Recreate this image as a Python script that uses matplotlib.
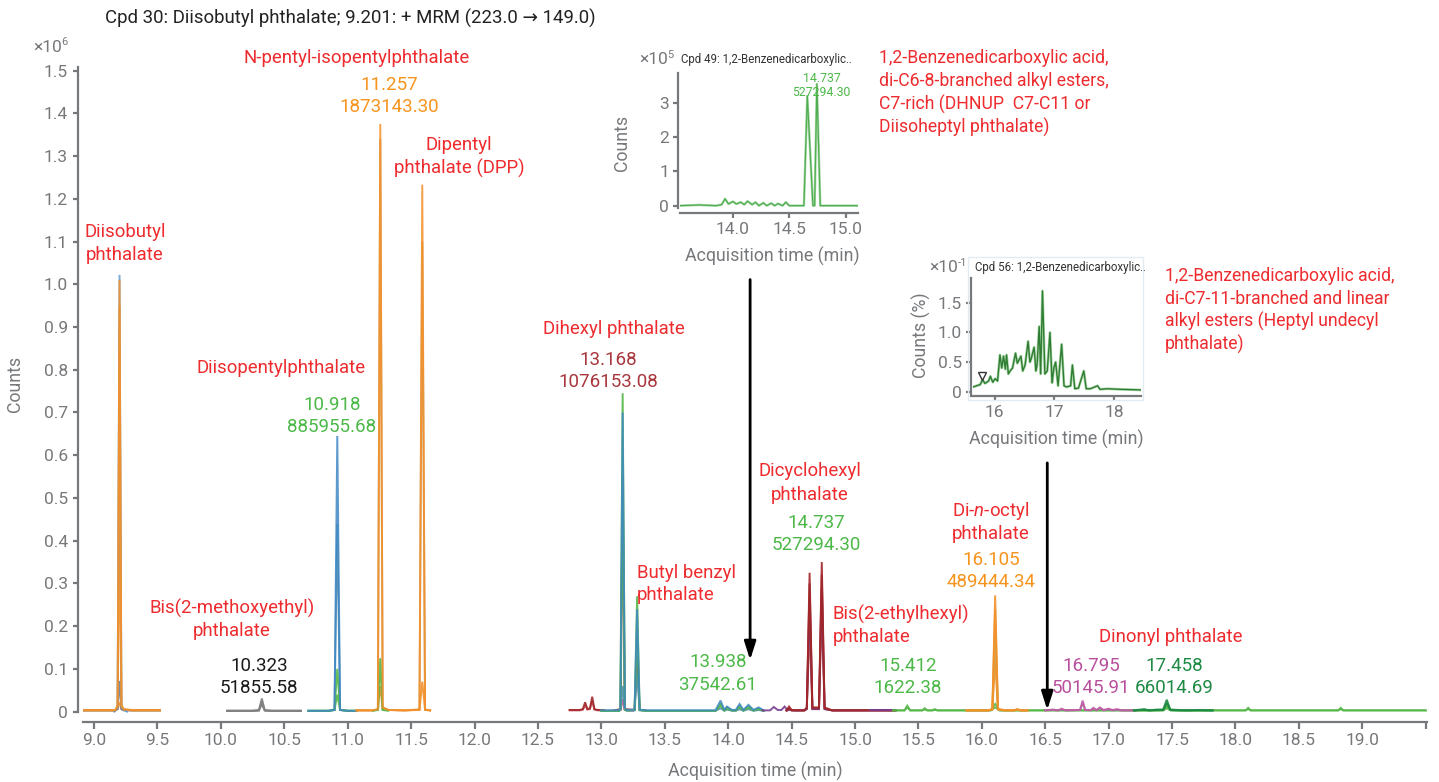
import matplotlib
matplotlib.use('Agg')
import matplotlib.pyplot as plt
from matplotlib.patches import Rectangle

plt.rcParams['font.family'] = ['Roboto', 'DejaVu Sans']
plt.rcParams['mathtext.fontset'] = 'custom'
plt.rcParams['mathtext.rm'] = 'Roboto'
plt.rcParams['mathtext.it'] = 'Roboto:italic'

# ---------------- data (main chromatogram, counts x1e6) ----------------
x_ticks = [9.0, 9.5, 10.0, 10.5, 11.0, 11.5, 12.0, 12.5, 13.0, 13.5, 14.0, 14.5,
           15.0, 15.5, 16.0, 16.5, 17.0, 17.5, 18.0, 18.5, 19.0, 19.5]
x_tick_labels = ['9.0', '9.5', '10.0', '10.5', '11.0', '11.5', '12.0', '12.5', '13.0',
                 '13.5', '14.0', '14.5', '15.0', '15.5', '16.0', '16.5', '17.0', '17.5',
                 '18.0', '18.5', '19.0', '']
y_ticks = [0, 0.1, 0.2, 0.3, 0.4, 0.5, 0.6, 0.7, 0.8, 0.9, 1.0, 1.1, 1.2, 1.3, 1.4, 1.5]
y_tick_labels = ['0', '0.1', '0.2', '0.3', '0.4', '0.5', '0.6', '0.7', '0.8', '0.9',
                 '1.0', '1.1', '1.2', '1.3', '1.4', '1.5']

# Diisobutyl phthalate window
A_t = [8.92, 9.10, 9.168, 9.186, 9.201, 9.216, 9.234, 9.30, 9.52]
A_orange_1 = [0.004, 0.004, 0.004, 0.015, 1.010, 0.015, 0.006, 0.004, 0.004]
A_tan = [0.003, 0.003, 0.003, 0.012, 0.950, 0.012, 0.005, 0.003, 0.003]
A_orange_2 = [0.003, 0.003, 0.003, 0.010, 0.425, 0.010, 0.005, 0.003, 0.003]
A_slate = [0.003, 0.003, 0.003, 0.006, 0.072, 0.006, 0.003, 0.003, 0.003]
A_orange_3 = [0.003, 0.003, 0.003, 0.006, 0.022, 0.006, 0.004, 0.003, 0.003]
A_blue_t = [9.16, 9.186, 9.201, 9.216, 9.26]
A_blue = [0.0, 0.008, 1.022, 0.008, 0.0]

# Bis(2-methoxyethyl) phthalate window
B_t = [10.05, 10.25, 10.300, 10.323, 10.346, 10.40, 10.63]
B_gray_1 = [0.002, 0.002, 0.003, 0.031, 0.003, 0.002, 0.002]
B_gray_2 = [0.002, 0.002, 0.003, 0.024, 0.003, 0.002, 0.002]
B_gray_3 = [0.002, 0.002, 0.003, 0.017, 0.003, 0.002, 0.002]

# Diisopentyl phthalate window
C1_t = [10.69, 10.85, 10.896, 10.918, 10.940, 11.00, 11.07]
C1_blue_1 = [0.002, 0.002, 0.004, 0.645, 0.004, 0.002, 0.002]
C1_blue_2 = [0.002, 0.002, 0.004, 0.440, 0.004, 0.002, 0.002]
C1_green_1 = [0.002, 0.002, 0.004, 0.100, 0.004, 0.002, 0.002]
C1_green_2 = [0.002, 0.002, 0.004, 0.040, 0.004, 0.002, 0.002]

# N-pentyl-isopentyl / dipentyl phthalate window
C2_t = [11.07, 11.20, 11.238, 11.257, 11.276, 11.32, 11.45, 11.566, 11.588, 11.610, 11.65]
C2_orange_1 = [0.003, 0.003, 0.006, 1.375, 0.010, 0.004, 0.003, 0.005, 1.233, 0.005, 0.003]
C2_tan = [0.003, 0.003, 0.006, 1.340, 0.010, 0.004, 0.003, 0.005, 1.100, 0.005, 0.003]
C2_orange_2 = [0.003, 0.003, 0.005, 0.060, 0.006, 0.004, 0.003, 0.004, 0.070, 0.004, 0.003]
C2_green_t = [11.20, 11.240, 11.257, 11.274, 11.32]
C2_green = [0.002, 0.004, 0.125, 0.004, 0.002]

# Dihexyl / butyl benzyl region
D1_t = [12.75, 12.83, 12.855, 12.872, 12.89, 12.91, 12.928, 12.945, 12.97, 13.02]
D1_red_1 = [0.004, 0.004, 0.006, 0.022, 0.006, 0.008, 0.035, 0.006, 0.004, 0.004]
D1_red_2 = [0.003, 0.003, 0.005, 0.015, 0.005, 0.006, 0.025, 0.005, 0.003, 0.003]
D2_t = [13.00, 13.10, 13.152, 13.168, 13.184, 13.25]
D2_pink = [0.002, 0.002, 0.004, 0.030, 0.004, 0.002]
D3_t = [13.00, 13.14, 13.150, 13.168, 13.186, 13.20, 13.262, 13.282, 13.302, 13.35,
        13.60, 13.90, 13.94, 13.97, 13.99, 14.03, 14.06, 14.09, 14.12, 14.16,
        14.20, 14.24, 14.28]
D3_blue = [0.003, 0.003, 0.008, 0.700, 0.008, 0.004, 0.005, 0.240, 0.005, 0.003,
           0.003, 0.003, 0.026, 0.004, 0.012, 0.004, 0.004, 0.018, 0.004, 0.016,
           0.004, 0.010, 0.003]
D3_green_1 = [0.002, 0.002, 0.006, 0.745, 0.006, 0.003, 0.004, 0.270, 0.004, 0.002,
              0.002, 0.002, 0.020, 0.003, 0.010, 0.003, 0.003, 0.014, 0.003, 0.013,
              0.003, 0.008, 0.002]
D3_green_2 = [0.002, 0.002, 0.005, 0.500, 0.005, 0.003, 0.004, 0.180, 0.004, 0.002,
              0.002, 0.002, 0.014, 0.003, 0.007, 0.003, 0.003, 0.010, 0.003, 0.009,
              0.003, 0.006, 0.002]
D3_teal = [0.002, 0.002, 0.004, 0.060, 0.004, 0.002, 0.003, 0.090, 0.003, 0.002,
           0.002, 0.002, 0.008, 0.002, 0.005, 0.002, 0.002, 0.006, 0.002, 0.006,
           0.002, 0.004, 0.002]
D3_red_t = [13.10, 13.152, 13.168, 13.184, 13.262, 13.282, 13.302, 13.35]
D3_red = [0.003, 0.006, 0.550, 0.006, 0.004, 0.130, 0.004, 0.003]

# dicyclohexyl / bis(2-ethylhexyl) region
D4_t = [14.27, 14.33, 14.36, 14.39, 14.42, 14.445, 14.47]
D4_purple = [0.003, 0.003, 0.011, 0.004, 0.004, 0.012, 0.003]
D5_t = [14.46, 14.48, 14.50, 14.53, 14.60, 14.620, 14.642, 14.664, 14.716, 14.738,
        14.760, 14.82, 15.00, 15.32]
D5_red_1 = [0.003, 0.012, 0.004, 0.003, 0.003, 0.010, 0.325, 0.010, 0.010, 0.350,
            0.010, 0.003, 0.003, 0.003]
D5_red_2 = [0.003, 0.008, 0.003, 0.003, 0.003, 0.008, 0.300, 0.008, 0.008, 0.320,
            0.008, 0.003, 0.003, 0.003]
D5_purple = [0.003, 0.005, 0.003, 0.003, 0.003, 0.006, 0.260, 0.006, 0.006, 0.290,
             0.006, 0.003, 0.003, 0.003]
D5_red_3 = [0.003, 0.005, 0.003, 0.003, 0.003, 0.006, 0.200, 0.006, 0.006, 0.240,
            0.006, 0.003, 0.003, 0.003]
D6_t = [15.12, 15.32]
D6_purple = [0.003, 0.003]

# late green trace
D7_t = [15.30, 15.39, 15.412, 15.435, 15.53, 15.55, 15.57, 15.61, 15.63, 15.65,
        16.07, 16.105, 16.14, 16.30, 17.43, 17.458, 17.49, 18.08, 18.10, 18.12,
        18.81, 18.83, 18.85, 19.50]
D7_green_1 = [0.003, 0.003, 0.014, 0.003, 0.003, 0.008, 0.003, 0.003, 0.006, 0.003,
              0.003, 0.018, 0.003, 0.003, 0.003, 0.012, 0.003, 0.003, 0.009, 0.003,
              0.003, 0.009, 0.003, 0.003]
D7_green_2 = [0.003, 0.003, 0.010, 0.003, 0.003, 0.005, 0.003, 0.003, 0.004, 0.003,
              0.003, 0.010, 0.003, 0.003, 0.003, 0.008, 0.003, 0.003, 0.006, 0.003,
              0.003, 0.006, 0.003, 0.003]

# di-n-octyl phthalate
D8_t = [15.88, 16.05, 16.083, 16.105, 16.127, 16.17, 16.25, 16.28, 16.31, 16.36]
D8_orange_1 = [0.003, 0.003, 0.006, 0.272, 0.006, 0.004, 0.003, 0.006, 0.003, 0.003]
D8_orange_2 = [0.003, 0.003, 0.006, 0.240, 0.006, 0.004, 0.003, 0.005, 0.003, 0.003]
D8_olive = [0.003, 0.003, 0.005, 0.190, 0.005, 0.003, 0.003, 0.004, 0.003, 0.003]
D8_orange_3 = [0.003, 0.003, 0.005, 0.120, 0.005, 0.003, 0.003, 0.004, 0.003, 0.003]

# dinonyl phthalate
D9_t = [16.50, 16.56, 16.60, 16.63, 16.66, 16.72, 16.775, 16.795, 16.815, 16.86,
        16.88, 16.905, 16.93, 16.96, 17.00, 17.03, 17.07, 17.10, 17.22]
D9_magenta_1 = [0.003, 0.005, 0.003, 0.007, 0.003, 0.004, 0.004, 0.026, 0.004, 0.004,
                0.009, 0.004, 0.010, 0.004, 0.007, 0.004, 0.006, 0.003, 0.003]
D9_gray = [0.003, 0.004, 0.003, 0.005, 0.003, 0.003, 0.004, 0.020, 0.004, 0.003,
           0.007, 0.003, 0.008, 0.003, 0.005, 0.003, 0.004, 0.003, 0.003]
D10_t = [17.20, 17.28, 17.32, 17.38, 17.43, 17.458, 17.486, 17.55, 17.62, 17.70, 17.82]
D10_dkgreen_1 = [0.003, 0.006, 0.003, 0.005, 0.005, 0.028, 0.005, 0.004, 0.003, 0.004, 0.003]
D10_dkgreen_2 = [0.003, 0.004, 0.003, 0.004, 0.004, 0.021, 0.004, 0.003, 0.003, 0.003, 0.003]
D10_green_3 = [0.003, 0.003, 0.003, 0.003, 0.004, 0.014, 0.004, 0.003, 0.003, 0.003, 0.003]

# inset 1 (Cpd 49, counts x1e5)
I1_t = [13.53, 13.70, 13.85, 13.90, 13.93, 13.96, 14.00, 14.03, 14.07, 14.10, 14.13,
        14.17, 14.20, 14.23, 14.27, 14.30, 14.34, 14.37, 14.40, 14.44, 14.47, 14.50,
        14.63, 14.660, 14.710, 14.725, 14.745, 14.775, 14.80, 15.11]
I1_y = [0.0, 0.02, 0.0, 0.03, 0.20, 0.05, 0.12, 0.05, 0.10, 0.03, 0.13,
        0.03, 0.10, 0.0, 0.08, 0.0, 0.07, 0.0, 0.06, 0.0, 0.10, 0.0,
        0.0, 3.20, 0.0, 0.0, 3.55, 0.0, 0.0, 0.0]
I1_xticks = [14.0, 14.5, 15.0]
I1_xlabels = ['14.0', '14.5', '15.0']
I1_yticks = [0, 1, 2, 3]
I1_ylabels = ['0', '1', '2', '3']

# inset 2 (Cpd 56, counts % x1e-1)
I2_t = [15.64, 15.70, 15.76, 15.80, 15.84, 15.90, 15.93, 15.97, 16.01, 16.05,
        16.09, 16.12, 16.15, 16.18, 16.20, 16.23, 16.26, 16.30, 16.35, 16.38,
        16.40, 16.44, 16.47, 16.51, 16.56, 16.59, 16.61, 16.66, 16.69, 16.71,
        16.745, 16.77, 16.80, 16.84, 16.88, 16.925, 16.96, 16.99, 17.02, 17.06,
        17.12, 17.16, 17.20, 17.27, 17.30, 17.34, 17.40, 17.49, 17.53, 17.60,
        17.72, 17.76, 17.88, 18.10, 18.44]
I2_y = [0.08, 0.10, 0.12, 0.20, 0.14, 0.18, 0.26, 0.16, 0.22, 0.18,
        0.62, 0.40, 0.60, 0.38, 0.62, 0.30, 0.35, 0.40, 0.65, 0.48,
        0.52, 0.60, 0.35, 0.45, 0.85, 0.50, 0.55, 0.75, 0.35, 0.45,
        1.10, 0.30, 1.70, 0.30, 0.35, 1.00, 0.15, 0.40, 0.50, 0.10,
        0.80, 0.10, 0.08, 0.10, 0.45, 0.05, 0.06, 0.35, 0.05, 0.05,
        0.10, 0.04, 0.05, 0.04, 0.03]
I2_marker_t = [15.79]
I2_marker_y = [0.26]
I2_xticks = [16, 17, 18]
I2_xlabels = ['16', '17', '18']
I2_yticks = [0, 0.5, 1.0, 1.5]
I2_ylabels = ['0', '0.5', '1.0', '1.5']

# ---------------- styling ----------------
W, H = 1439, 782
GRAY = '#76787b'
RED = '#ee2b2e'
ORANGE = '#f4902a'
ORANGE_T = '#f7941d'
BLUE = '#3f88c5'
STEEL = '#4f8db0'
GREEN = '#55b748'
GREEN_T = '#4cb848'
DKRED = '#a3262a'
DKRED_T = '#a8363c'
PURPLE = '#7a3d8f'
MAGENTA = '#c25aa5'
MAGENTA_T = '#b8509d'
DKGREEN = '#1e8a44'
MIDGRAY = '#808080'
TAN = '#c49a5e'
SLATE = '#6a7d99'

LBL = 13.4     # red compound labels
NUM = 13.5     # RT / area numbers
BLK = 12.7     # long red description blocks

fig = plt.figure(figsize=(W / 100, H / 100), dpi=100)


def fx(px):
    return px / W


def fy(py):
    return 1 - py / H


def axes_px(x0, x1, ytop, ybot):
    return [fx(x0), fy(ybot), (x1 - x0) / W, (ybot - ytop) / H]


ax = fig.add_axes(axes_px(83, 1427, 66.7, 713.8))


def tr(a, t, y, c, lw=1.4, al=0.9, z=2):
    a.plot(t, y, color=c, lw=lw, alpha=al, zorder=z, solid_joinstyle='miter')


# region A
tr(ax, A_t, A_orange_3, ORANGE)
tr(ax, A_t, A_slate, SLATE)
tr(ax, A_t, A_orange_2, ORANGE)
tr(ax, A_blue_t, A_blue, BLUE, al=0.7)
tr(ax, A_t, A_tan, TAN)
tr(ax, A_t, A_orange_1, ORANGE, al=0.85)
# region B
tr(ax, B_t, B_gray_3, MIDGRAY)
tr(ax, B_t, B_gray_2, MIDGRAY)
tr(ax, B_t, B_gray_1, MIDGRAY)
# region C
tr(ax, C1_t, C1_green_2, GREEN)
tr(ax, C1_t, C1_blue_2, STEEL)
tr(ax, C1_t, C1_green_1, GREEN)
tr(ax, C1_t, C1_blue_1, BLUE, al=0.85)
tr(ax, C2_t, C2_tan, TAN)
tr(ax, C2_t, C2_orange_2, ORANGE)
tr(ax, C2_green_t, C2_green, GREEN)
tr(ax, C2_t, C2_orange_1, ORANGE, al=0.85)
# region D
tr(ax, D1_t, D1_red_2, '#c0565a')
tr(ax, D1_t, D1_red_1, DKRED)
tr(ax, D2_t, D2_pink, MAGENTA)
tr(ax, D3_red_t, D3_red, DKRED)
tr(ax, D3_t, D3_teal, STEEL)
tr(ax, D3_t, D3_green_2, GREEN)
tr(ax, D3_t, D3_green_1, GREEN)
tr(ax, D3_t, D3_blue, BLUE, al=0.85)
tr(ax, D4_t, D4_purple, PURPLE)
tr(ax, D5_t, D5_red_3, '#b84a4e')
tr(ax, D5_t, D5_purple, PURPLE)
tr(ax, D5_t, D5_red_2, '#8e2a30')
tr(ax, D5_t, D5_red_1, DKRED)
tr(ax, D6_t, D6_purple, PURPLE)
tr(ax, D7_t, D7_green_2, GREEN)
tr(ax, D7_t, D7_green_1, GREEN)
tr(ax, D8_t, D8_orange_3, ORANGE)
tr(ax, D8_t, D8_olive, '#c9a23a')
tr(ax, D8_t, D8_orange_2, '#d9a441')
tr(ax, D8_t, D8_orange_1, ORANGE)
tr(ax, D9_t, D9_gray, '#a07a9a')
tr(ax, D9_t, D9_magenta_1, MAGENTA)
tr(ax, D10_t, D10_green_3, GREEN)
tr(ax, D10_t, D10_dkgreen_2, DKGREEN)
tr(ax, D10_t, D10_dkgreen_1, DKGREEN)

ax.set_xlim(8.913, 19.51)
ax.set_ylim(-0.005, 1.509)
for s in ['top', 'right']:
    ax.spines[s].set_visible(False)
for s in ['left', 'bottom']:
    ax.spines[s].set_color(GRAY)
    ax.spines[s].set_linewidth(1.6)
ax.spines['bottom'].set_position(('outward', 6))
ax.spines['left'].set_position(('outward', 3.6))
ax.spines['left'].set_bounds(0, 1.509)
ax.set_xticks(x_ticks)
ax.set_xticklabels(x_tick_labels)
ax.set_yticks(y_ticks)
ax.set_yticklabels(y_tick_labels)
ax.tick_params(axis='x', length=5, width=1.6, color=GRAY, labelcolor=GRAY,
               labelsize=12.5, pad=3)
ax.tick_params(axis='y', length=3.6, width=1.6, color=GRAY, labelcolor=GRAY,
               labelsize=12.5, pad=3.5)
ax.patch.set_alpha(0)

# arrows
for ax_x, y_from, y_to in [(14.173, 1.011, 0.121), (16.516, 0.582, 0.004)]:
    ax.annotate('', xy=(ax_x, y_to), xytext=(ax_x, y_from),
                arrowprops=dict(arrowstyle='-|>,head_width=0.35,head_length=1.1',
                                color='black', lw=2, shrinkA=0, shrinkB=0,
                                mutation_scale=10), annotation_clip=False, zorder=10)

# ---------------- inset 1 ----------------
ax1 = fig.add_axes(axes_px(680, 858, 73, 208.4))
ax1.plot(I1_t, I1_y, color='#7cc47a', lw=1.8, alpha=0.6)
ax1.plot(I1_t, I1_y, color='#4fae50', lw=0.9)
ax1.set_xlim(13.53, 15.11)
ax1.set_ylim(-0.08, 3.87)
ax1.set_xticks(I1_xticks)
ax1.set_xticklabels(I1_xlabels)
ax1.set_yticks(I1_yticks)
ax1.set_yticklabels(I1_ylabels)

# ---------------- inset 2 ----------------
ax2 = fig.add_axes(axes_px(973, 1140.7, 277.9, 395.85))
ax2.plot(I2_t, I2_y, color='#8cc88a', lw=2.0, alpha=0.7)
ax2.plot(I2_t, I2_y, color='#2f7d32', lw=1.0)
ax2.plot(I2_marker_t, I2_marker_y, marker='v', ms=6, mfc='none', mec='#333333',
         mew=1.0, ls='none')
ax2.set_xlim(15.64, 18.44)
ax2.set_ylim(-0.07, 1.92)
ax2.set_xticks(I2_xticks)
ax2.set_xticklabels(I2_xlabels)
ax2.set_yticks(I2_yticks)
ax2.set_yticklabels(I2_ylabels)

for a, xo in [(ax1, 3.3), (ax2, 0)]:
    for s in ['top', 'right']:
        a.spines[s].set_visible(False)
    for s in ['left', 'bottom']:
        a.spines[s].set_color(GRAY)
        a.spines[s].set_linewidth(1.6)
    a.spines['bottom'].set_position(('outward', xo))
    a.spines['left'].set_position(('outward', 1.5))
    a.tick_params(length=3.5, width=1.6, color=GRAY, labelcolor=GRAY,
                  labelsize=12.5, pad=3)
    a.patch.set_alpha(0)

fig.patches.append(Rectangle((fx(968), fy(400)), (1143 - 968) / W, (400 - 257) / H,
                             transform=fig.transFigure, fill=False,
                             edgecolor='#e3ebf2', lw=1.0, zorder=0))


# ---------------- texts ----------------
def t(px, py, s, c=RED, ha='center', size=LBL, **kw):
    fig.text(fx(px), fy(py), s, color=c, ha=ha, va='center', size=size, **kw)


t(105, 18, 'Cpd 30: Diisobutyl phthalate; 9.201: + MRM (223.0 \u2192 149.0)', c='#222222',
  ha='left', size=13.4)
t(48, 47, '\u00d710', c=GRAY, size=12.5)
t(64.5, 42, '6', c=GRAY, size=8)
t(15, 384, 'Counts', c=GRAY, rotation=90, size=12.8)
t(755, 771, 'Acquisition time (min)', c=GRAY, size=12.8)

# inset 1 texts
t(654, 60, '\u00d710', c=GRAY, size=12.5)
t(670.5, 55, '5', c=GRAY, size=8)
t(681, 60, 'Cpd 49: 1,2-Benzenedicarboxylic..', c='#333333', ha='left', size=8.3)
t(622, 143, 'Counts', c=GRAY, rotation=90, size=12.8)
t(772, 256, 'Acquisition time (min)', c=GRAY, size=12.8)
t(822, 78, '14.737', c=GREEN_T, size=8.8)
t(821, 92, '527294.30', c=GREEN_T, size=8.8)

# inset 2 texts
t(944, 268, '\u00d710', c=GRAY, size=12.5)
t(962, 263, '-1', c=GRAY, size=8)
t(975, 268, 'Cpd 56: 1,2-Benzenedicarboxylic..', c='#333333', ha='left', size=8.3)
t(921, 335, 'Counts (%)', c=GRAY, rotation=90, size=12.8)
t(1056, 439, 'Acquisition time (min)', c=GRAY, size=12.8)

# compound labels
t(357, 58, 'N-pentyl-isopentylphthalate')
t(389, 85, '11.257', c=ORANGE_T, size=NUM)
t(389, 107, '1873143.30', c=ORANGE_T, size=NUM)
t(459, 145, 'Dipentyl')
t(459, 168, 'phthalate (DPP)')
t(125, 232, 'Diisobutyl')
t(125, 255, 'phthalate')
t(281, 368, 'Diisopentylphthalate')
t(332, 405, '10.918', c=GREEN_T, size=NUM)
t(332, 427, '885955.68', c=GREEN_T, size=NUM)
t(614, 329, 'Dihexyl phthalate')
t(608, 360, '13.168', c=DKRED_T, size=NUM)
t(608, 382, '1076153.08', c=DKRED_T, size=NUM)
t(637, 573, 'Butyl benzyl', ha='left')
t(637, 595, 'phthalate', ha='left')
t(232, 608, 'Bis(2-methoxyethyl)')
t(232, 631, 'phthalate')
t(259, 666, '10.323', c='#1a1a1a', size=NUM)
t(259, 688, '51855.58', c='#1a1a1a', size=NUM)
t(718, 662, '13.938', c=GREEN_T, size=NUM)
t(718, 685, '37542.61', c=GREEN_T, size=NUM)
t(810, 471, 'Dicyclohexyl')
t(810, 495, 'phthalate')
t(816, 523, '14.737', c=GREEN_T, size=NUM)
t(816, 545, '527294.30', c=GREEN_T, size=NUM)
t(833, 614, 'Bis(2-ethylhexyl)', ha='left')
t(833, 637, 'phthalate', ha='left')
t(908, 666, '15.412', c=GREEN_T, size=NUM)
t(908, 688, '1622.38', c=GREEN_T, size=NUM)
t(991, 511, r'Di-$\mathit{n}$-octyl')
t(991, 534, 'phthalate')
t(991, 560, '16.105', c=ORANGE_T, size=NUM)
t(991, 582, '489444.34', c=ORANGE_T, size=NUM)
t(1171, 637, 'Dinonyl phthalate')
t(1091, 666, '16.795', c=MAGENTA_T, size=NUM)
t(1091, 688, '50145.91', c=MAGENTA_T, size=NUM)
t(1174, 666, '17.458', c=DKGREEN, size=NUM)
t(1174, 688, '66014.69', c=DKGREEN, size=NUM)

block1 = ['1,2-Benzenedicarboxylic acid,', 'di-C6-8-branched alkyl esters,',
          'C7-rich (DHNUP  C7-C11 or', 'Diisoheptyl phthalate)']
for i, line in enumerate(block1):
    t(879, 58 + 23 * i, line, ha='left', size=BLK)
block2 = ['1,2-Benzenedicarboxylic acid,', 'di-C7-11-branched and linear',
          'alkyl esters (Heptyl undecyl', 'phthalate)']
for i, line in enumerate(block2):
    t(1165, 276 + 22.7 * i, line, ha='left', size=BLK)

fig.savefig('out.png', dpi=100)
